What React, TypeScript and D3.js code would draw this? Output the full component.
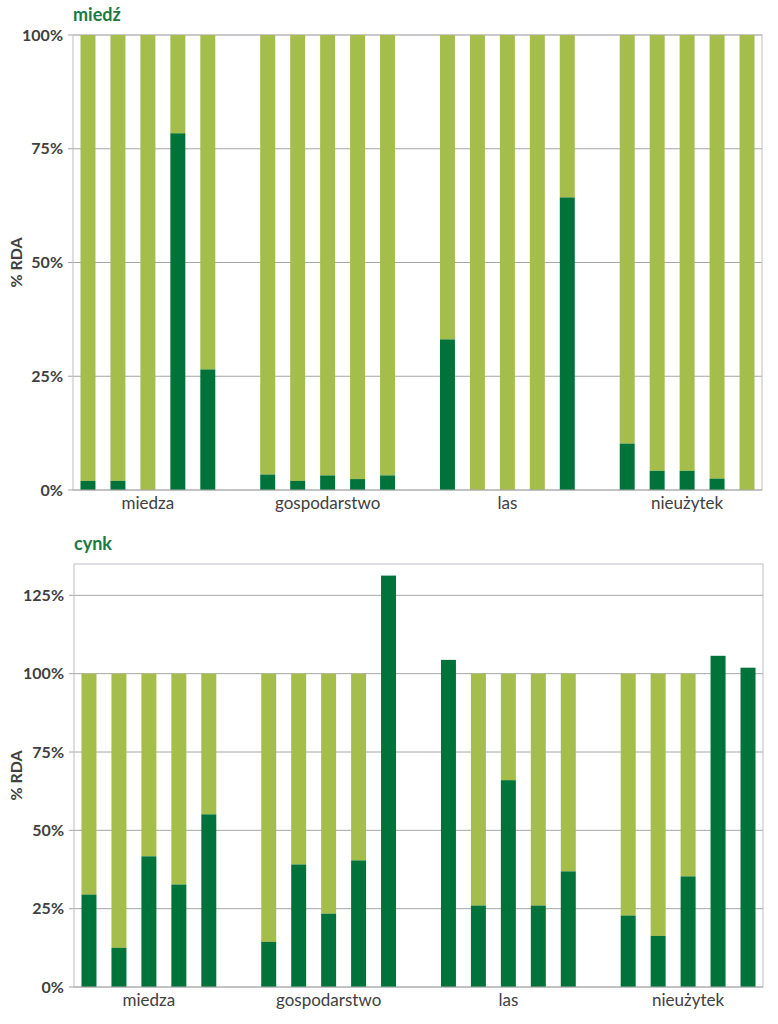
import { useRef, useEffect } from 'react';
import * as d3 from 'd3';

const groups = ['miedza', 'gospodarstwo', 'las', 'nieużytek'];
const samples = ['1', '2', '3', '4', '5'];

// % RDA covered, 5 samples per site
const copper = [2, 2, 0, 78.4, 26.5, 3.4, 2, 3.2, 2.4, 3.2, 33.1, 0, 0, 0, 64.3, 10.2, 4.2, 4.2, 2.5, 0];
const zinc = [29.5, 12.5, 41.7, 32.7, 55.1, 14.4, 39.1, 23.4, 40.4, 131.3, 104.4, 26, 66, 26, 36.9, 22.8, 16.3, 35.3, 105.7, 101.9];

const copperTicks = [0, 25, 50, 75, 100];
const zincTicks = [0, 25, 50, 75, 100, 125];

const DARK = '#00733A';
const LIGHT = '#A5BD4B';
const TITLE = '#1A7A43';
const TEXT = '#404040';
const GRID = '#A6A6A6';
const FONT = 'Lato, "Open Sans", sans-serif';

interface PanelOpts {
  title: string;
  values: number[];
  ticks: number[];
  yMax: number;
  top: number;
  bottom: number;
  left: number;
  right: number;
}

function drawPanel(svg: d3.Selection<SVGSVGElement, unknown, null, undefined>, o: PanelOpts) {
  const g = svg.append('g');

  const x0 = d3.scaleBand<string>().domain(groups).range([o.left, o.right]).paddingInner(1 / 6).paddingOuter(0);
  const x1 = d3.scaleBand<string>().domain(samples).range([0, x0.bandwidth()]).paddingInner(0.5).paddingOuter(0.25);
  const y = d3.scaleLinear().domain([0, o.yMax]).range([o.bottom, o.top]);

  // grid lines + tick marks
  g.append('g')
    .selectAll('line')
    .data(o.ticks.filter((t) => t > 0))
    .join('line')
    .attr('x1', o.left - 5)
    .attr('x2', o.right)
    .attr('y1', (d) => y(d))
    .attr('y2', (d) => y(d))
    .attr('stroke', GRID)
    .attr('stroke-width', 1);

  // plot border
  g.append('rect')
    .attr('x', o.left)
    .attr('y', o.top)
    .attr('width', o.right - o.left)
    .attr('height', o.bottom - o.top)
    .attr('fill', 'none')
    .attr('stroke', '#BEBEC6')
    .attr('stroke-width', 1);

  const rows = o.values.map((v, i) => ({
    group: groups[Math.floor(i / samples.length)],
    sample: samples[i % samples.length],
    dark: v,
    light: Math.max(0, 100 - v),
  }));

  // light part (remaining to 100% RDA)
  g.append('g')
    .selectAll('rect')
    .data(rows.filter((d) => d.light > 0))
    .join('rect')
    .attr('x', (d) => (x0(d.group) ?? 0) + (x1(d.sample) ?? 0))
    .attr('width', x1.bandwidth())
    .attr('y', (d) => y(d.dark + d.light))
    .attr('height', (d) => y(d.dark) - y(d.dark + d.light))
    .attr('fill', LIGHT);

  // dark part
  g.append('g')
    .selectAll('rect')
    .data(rows.filter((d) => d.dark > 0))
    .join('rect')
    .attr('x', (d) => (x0(d.group) ?? 0) + (x1(d.sample) ?? 0))
    .attr('width', x1.bandwidth())
    .attr('y', (d) => y(d.dark))
    .attr('height', (d) => y(0) - y(d.dark))
    .attr('fill', DARK);

  // baseline with tick
  g.append('line')
    .attr('x1', o.left - 5)
    .attr('x2', o.right)
    .attr('y1', y(0))
    .attr('y2', y(0))
    .attr('stroke', GRID);

  // y tick labels
  g.append('g')
    .selectAll('text')
    .data(o.ticks)
    .join('text')
    .attr('x', o.left - 10)
    .attr('y', (d) => y(d))
    .attr('dy', '0.35em')
    .attr('text-anchor', 'end')
    .attr('font-family', FONT)
    .attr('font-weight', 'bold')
    .attr('font-size', 16)
    .attr('fill', TEXT)
    .text((d) => `${d}%`);

  // category labels
  g.append('g')
    .selectAll('text')
    .data(groups)
    .join('text')
    .attr('x', (d) => (x0(d) ?? 0) + x0.bandwidth() / 2)
    .attr('y', o.bottom + 19)
    .attr('text-anchor', 'middle')
    .attr('font-family', FONT)
    .attr('font-size', 17)
    .attr('fill', TEXT)
    .text((d) => d);

  // y axis title
  g.append('text')
    .attr('transform', `translate(22,${(o.top + o.bottom) / 2}) rotate(-90)`)
    .attr('text-anchor', 'middle')
    .attr('font-family', FONT)
    .attr('font-weight', 'bold')
    .attr('font-size', 16)
    .attr('fill', TEXT)
    .text('% RDA');

  // panel title
  g.append('text')
    .attr('x', o.left)
    .attr('y', o.top - 14)
    .attr('font-family', FONT)
    .attr('font-weight', 'bold')
    .attr('font-size', 18)
    .attr('fill', TITLE)
    .text(o.title);
}

export default function App() {
  const svgRef = useRef<SVGSVGElement>(null);

  useEffect(() => {
    if (!svgRef.current) return;
    const svg = d3.select(svgRef.current);
    svg.selectAll('*').remove();

    drawPanel(svg, { title: 'miedź', values: copper, ticks: copperTicks, yMax: 100, top: 35, bottom: 490, left: 73, right: 762 });
    drawPanel(svg, { title: 'cynk', values: zinc, ticks: zincTicks, yMax: 135, top: 564, bottom: 987, left: 74, right: 763 });
  }, []);

  return (
    <svg
      ref={svgRef}
      width={778}
      height={1024}
      style={{ position: 'absolute', left: 0, top: 0, background: '#fff' }}
    />
  );
}
